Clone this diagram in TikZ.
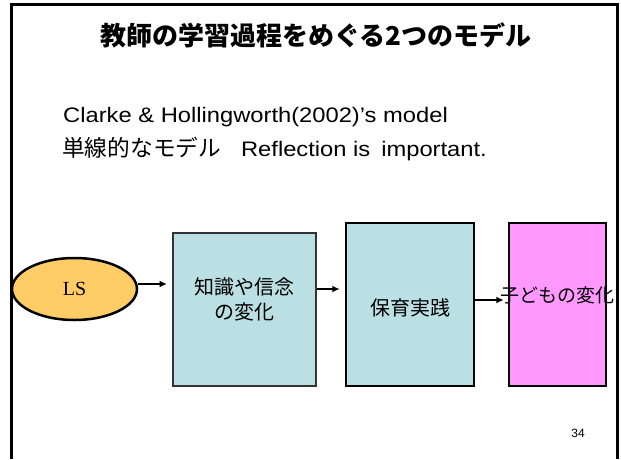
\documentclass[tikz,border=0pt]{standalone}
\usepackage{fontspec}
\setmainfont{Liberation Sans}[FakeStretch=1.13]
\newfontfamily\jp{Noto Sans CJK JP}
\newfontfamily\seriffont{Liberation Serif}
\newfontfamily\plainsans{Liberation Sans}
\usetikzlibrary{arrows.meta,shapes.geometric}
\definecolor{lsfill}{HTML}{FFCC66}
\definecolor{boxblue}{HTML}{BBE0E3}
\definecolor{boxpink}{HTML}{FF99FF}
\tikzset{
  frame/.style={line width=3pt, black},
  stagebox/.style={draw=black, line width=2.5pt, fill=boxblue, inner sep=0pt},
  arr/.style={line width=2pt, -{Latex[length=7.5pt,width=7pt]}},
  boxtext/.style={font=\jp\fontsize{20}{25}\selectfont, align=center, inner sep=0pt},
  bodytext/.style={anchor=base west, inner sep=0pt, font=\fontsize{21}{25}\selectfont},
}
\begin{document}
\begin{tikzpicture}[x=1pt,y=-1pt]
\useasboundingbox (0,0) rectangle (621,459);
% slide frame
\draw[frame] (11.5,459) -- (11.5,4.5) -- (617.5,4.5) -- (617.5,459);
% title
\node[anchor=base, inner sep=0pt, font=\jp\bfseries\fontsize{26}{30}\selectfont] (title) at (316,45.5) {教師の学習過程をめぐる2つのモデル};
% body text
\node[bodytext] (line1) at (63,122.5) {Clarke \& Hollingworth(2002)’s model};
\node[bodytext] (line2) at (62,156) {{\jp\fontsize{22.7}{25}\selectfont 単線的なモデル}\hspace*{20pt}Reflection is\hspace*{11pt}important.};
% diagram
\node[ellipse, draw=black, line width=2.5pt, fill=lsfill, minimum width=125pt, minimum height=62pt, inner sep=0pt, font=\seriffont\fontsize{20}{24}\selectfont] (ls) at (74.5,289) {LS};
\node[stagebox, draw=black!80, line width=2pt, minimum width=143pt, minimum height=153pt] (b1) at (244.5,309.5) {};
\node[stagebox, minimum width=128pt, minimum height=163pt] (b2) at (410,304.5) {};
\node[stagebox, fill=boxpink, minimum width=97pt, minimum height=163pt] (b3) at (557.5,304.5) {};
\node[boxtext] (t1) at (244.5,299.5) {知識や信念\\の変化};
\node[boxtext] (t2) at (410,308) {保育実践};
\node[boxtext, font=\jp\fontsize{19}{25}\selectfont] (t3) at (557.5,295) {子どもの変化};
\draw[arr, shorten >=5pt] ([yshift=5pt]ls.east) -- ([yshift=5pt]ls.east -| b1.west);
\draw[arr, shorten >=5pt] ([yshift=20.5pt]b1.east) -- ([yshift=20.5pt]b1.east -| b2.west);
\draw[arr, shorten >=4pt] ([yshift=4.5pt]b2.east) -- ([yshift=4.5pt]b2.east -| b3.west);
% page number
\node[inner sep=0pt, font=\plainsans\fontsize{12}{14}\selectfont] (pnum) at (578,433) {34};
\end{tikzpicture}
\end{document}
